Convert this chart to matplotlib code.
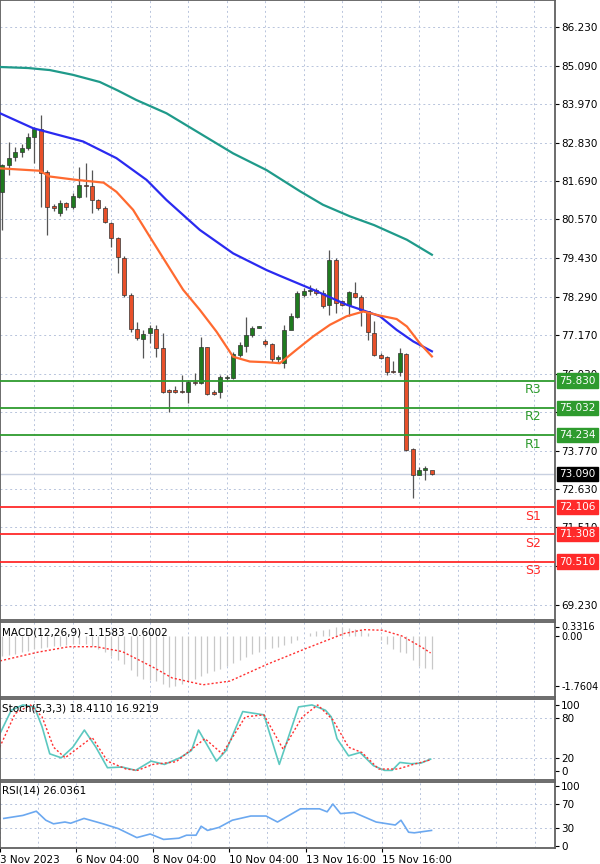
import matplotlib
matplotlib.use("Agg")
import matplotlib.pyplot as plt
import numpy as np

# 4h candles, index 0..67
opens = [81.38, 82.17, 82.41, 82.56, 82.66, 83.00, 83.22, 81.97, 80.96, 80.75, 81.06, 80.92,
         81.24, 81.58, 81.55, 81.14, 80.90, 80.45, 80.01, 79.43, 78.35, 77.34, 77.04, 77.22,
         77.36, 76.78, 75.55, 75.55, 75.53, 75.48, 75.80, 75.75, 76.81, 75.50, 75.50, 75.90,
         75.90, 76.58, 76.85, 77.17, 77.39, 77.00, 76.90, 76.46, 76.34, 77.32, 77.71, 78.35,
         78.45, 78.48, 78.40, 78.06, 79.38, 78.16, 78.06, 78.40, 78.30, 77.89, 77.23, 76.59,
         76.52, 76.10, 76.07, 76.62, 73.82, 73.06, 73.21, 73.20]
closes = [82.17, 82.36, 82.56, 82.66, 83.00, 83.22, 81.92, 80.94, 80.89, 81.06, 80.92, 81.26,
          81.58, 81.55, 81.14, 80.90, 80.50, 80.01, 79.47, 78.35, 77.34, 77.07, 77.20, 77.37,
          76.78, 75.50, 75.50, 75.50, 75.48, 75.80, 75.75, 76.81, 75.44, 75.44, 75.93, 75.93,
          76.61, 76.88, 77.17, 77.37, 77.40, 76.90, 76.46, 76.53, 77.32, 77.73, 78.40, 78.45,
          78.50, 78.40, 78.03, 79.38, 78.11, 78.06, 78.42, 78.30, 77.91, 77.25, 76.59, 76.49,
          76.07, 76.08, 76.64, 73.80, 73.06, 73.21, 73.23, 73.09]
highs = [82.20, 82.85, 82.70, 82.80, 83.10, 83.30, 83.64, 82.02, 81.02, 81.14, 81.09, 81.34,
         82.12, 82.24, 82.02, 81.16, 80.95, 80.50, 80.06, 79.48, 78.40, 77.56, 77.32, 77.47,
         77.47, 77.22, 75.57, 75.67, 75.99, 75.85, 76.04, 77.12, 76.83, 75.55, 76.00, 76.00,
         76.68, 76.95, 77.71, 77.42, 77.42, 77.04, 76.93, 76.58, 77.47, 77.81, 78.45, 78.55,
         78.65, 78.55, 78.50, 79.68, 79.43, 78.21, 78.45, 78.72, 78.35, 77.82, 77.57, 76.64,
         76.56, 76.40, 76.79, 76.64, 73.85, 73.30, 73.32, 73.13]
lows = [80.26, 81.88, 82.30, 82.41, 82.61, 82.22, 80.94, 80.11, 80.83, 80.67, 80.84, 80.87,
        81.19, 81.24, 80.75, 80.85, 80.45, 79.77, 78.98, 78.30, 77.27, 77.02, 76.49, 76.93,
        76.53, 75.45, 74.92, 75.45, 75.45, 75.16, 75.70, 75.73, 75.41, 75.41, 75.31, 75.85,
        75.87, 76.53, 76.68, 77.12, 77.38, 76.86, 76.39, 76.34, 76.19, 77.37, 77.66, 78.30,
        78.35, 78.35, 77.97, 77.77, 77.81, 78.01, 77.72, 78.25, 77.44, 77.03, 76.54, 76.46,
        76.00, 76.05, 75.95, 73.75, 72.37, 73.06, 72.91, 73.06]

# moving averages (bar position, price)
ma_fast_x = [-0.36, 5.8, 7.4, 11.6, 15.8, 17.8, 20.4, 23.0, 25.6, 28.2, 30.8, 33.4, 36.0,
             38.6, 41.2, 43.3, 45.9, 48.5, 51.1, 53.7, 56.3, 58.9, 61.5, 63.1, 65.1, 67.0]
ma_fast_y = [82.07, 82.00, 81.83, 81.73, 81.65, 81.38, 80.85, 80.06, 79.28, 78.50, 77.91,
             77.27, 76.53, 76.39, 76.37, 76.34, 76.74, 77.13, 77.47, 77.72, 77.86, 77.74,
             77.64, 77.42, 76.93, 76.54]
ma_mid_x = [-0.36, 4.8, 12.6, 17.8, 22.5, 25.6, 30.8, 36.0, 41.2, 43.3, 48.5, 53.7, 56.8,
            58.9, 61.5, 64.1, 67.0]
ma_mid_y = [83.69, 83.25, 82.86, 82.37, 81.73, 81.14, 80.26, 79.57, 79.08, 78.91, 78.50,
            78.06, 77.86, 77.72, 77.32, 76.98, 76.69]
ma_slow_x = [-0.36, 4.0, 7.4, 11.0, 15.2, 18.0, 20.9, 25.6, 30.8, 36.0, 41.2, 46.4, 50.0,
             54.2, 58.0, 63.1, 67.0]
ma_slow_y = [85.05, 85.02, 84.96, 84.82, 84.61, 84.36, 84.08, 83.69, 83.10, 82.51, 82.02,
             81.40, 81.00, 80.66, 80.40, 79.97, 79.53]

price_ticks = [86.230, 85.090, 83.970, 82.830, 81.690, 80.570, 79.430, 78.290, 77.170,
               76.030, 74.910, 73.770, 72.630, 71.510, 70.370, 69.230]
res_levels = [75.830, 75.032, 74.234]
res_names = ["R3", "R2", "R1"]
sup_levels = [72.106, 71.308, 70.510]
sup_names = ["S1", "S2", "S3"]
last_price = 73.090

macd_hist = [-0.70, -0.66, -0.62, -0.57, -0.52, -0.47, -0.42, -0.38, -0.36, -0.35, -0.33,
             -0.30, -0.28, -0.30, -0.35, -0.45, -0.55, -0.70, -0.85, -1.00, -1.20, -1.40,
             -1.50, -1.55, -1.60, -1.70, -1.80, -1.78, -1.70, -1.60, -1.50, -1.40, -1.30,
             -1.25, -1.15, -1.05, -0.95, -0.85, -0.75, -0.65, -0.55, -0.47, -0.42, -0.38,
             -0.33, -0.25, -0.15, -0.02, 0.10, 0.18, 0.22, 0.25, 0.33, 0.30, 0.28, 0.25,
             0.20, 0.12, 0.00, -0.15, -0.30, -0.45, -0.55, -0.60, -0.85, -1.05, -1.12, -1.16]
macd_sig_x = [-0.36, 5.6, 10.4, 14.6, 18.7, 23.5, 26.5, 31.3, 35.5, 41.4, 47.4, 53.4, 56.4,
              59.3, 62.3, 65.3, 66.8]
macd_sig_y = [-0.88, -0.57, -0.38, -0.38, -0.55, -1.10, -1.48, -1.72, -1.59, -0.99, -0.44,
              0.09, 0.22, 0.20, 0.00, -0.38, -0.60]

stoch_k_x = [-0.4, 1.4, 3.2, 5.0, 6.2, 7.4, 9.2, 11.0, 12.8, 14.6, 16.4, 18.7, 20.8, 23.2,
             25.3, 27.7, 29.5, 30.6, 33.4, 34.9, 37.5, 40.8, 43.2, 46.2, 48.3, 50.4, 51.3,
             52.2, 54.0, 55.8, 57.9, 59.6, 60.8, 62.0, 63.8, 65.3, 66.8]
stoch_k_y = [56, 92, 100, 97, 67, 26, 20, 36, 62, 36, 5, 6, 1, 15, 10, 20, 31, 62, 15, 31,
             90, 85, 10, 97, 100, 92, 82, 49, 23, 28, 8, 1, 1, 13, 11, 12, 18]
stoch_d_x = [-0.4, 2.0, 4.4, 6.2, 8.0, 9.8, 14.0, 16.4, 19.3, 21.1, 23.5, 27.1, 31.6, 34.3,
             37.9, 40.8, 43.8, 46.8, 49.2, 51.6, 54.0, 56.1, 58.7, 61.7, 64.1, 66.8]
stoch_d_y = [36, 87, 100, 82, 36, 20, 51, 15, 3, 1, 10, 14, 49, 26, 82, 85, 33, 82, 100, 77,
             36, 28, 3, 3, 10, 17]

rsi_x = [-0.4, 2.6, 4.7, 6.2, 7.4, 9.2, 10.1, 12.2, 15.2, 17.6, 20.5, 22.6, 24.7, 27.1,
         28.3, 29.8, 30.6, 31.6, 33.4, 35.5, 38.4, 40.8, 42.6, 46.2, 49.2, 50.4, 51.3, 52.5,
         54.6, 58.1, 61.1, 62.0, 63.2, 64.1, 66.8]
rsi_y = [46, 51, 58, 43, 37, 40, 38, 46, 37, 29, 14, 20, 11, 13, 18, 18, 33, 26, 31, 43,
         50, 50, 40, 62, 62, 57, 70, 54, 56, 40, 35, 43, 23, 22, 26]

date_pos = [-1, 11, 23, 35, 47, 59]
date_labels = ["3 Nov 2023", "6 Nov 04:00", "8 Nov 04:00", "10 Nov 04:00",
               "13 Nov 16:00", "15 Nov 16:00"]

W, H = 600, 864
XL = (-0.36, 86.2)
GRID = dict(color="#b8c4dc", linestyle=(0, (2, 3)), linewidth=0.7, zorder=0)
FS = 7.5

fig = plt.figure(figsize=(6, 8.64), dpi=100)


def make_ax(top, bottom):
    ax = fig.add_axes([0, 1 - bottom / H, 555 / W, (bottom - top) / H])
    ax.set_xlim(*XL)
    ax.set_xticks([])
    for s in ax.spines.values():
        s.set_color("#606060")
        s.set_linewidth(1.3)
    ax.yaxis.tick_right()
    ax.tick_params(axis="y", labelsize=FS, length=3, pad=1.5)
    for gx in np.arange(-1, 87, 6):
        ax.axvline(gx, **GRID)
    return ax


ax = make_ax(0, 620)
ax.set_ylim(68.79, 87.02)
ax.set_yticks(price_ticks)
ax.set_yticklabels([f"{v:.3f}" for v in price_ticks])
for v in price_ticks:
    ax.axhline(v, **GRID)

idx = np.arange(len(opens))
o = np.array(opens)
c = np.array(closes)
up = c >= o
colors = np.where(up, "#1f7a1f", "#e8502a")
ax.vlines(idx, lows, highs, color="#555555", linewidth=0.9, zorder=2)
ax.bar(idx, np.maximum(np.abs(c - o), 0.04), bottom=np.minimum(o, c), width=0.62,
       color=colors, edgecolor="#333333", linewidth=0.5, zorder=3)

ax.plot(ma_slow_x, ma_slow_y, color="#1f9a8a", linewidth=1.6, zorder=4)
ax.plot(ma_mid_x, ma_mid_y, color="#2a2af0", linewidth=1.6, zorder=4)
ax.plot(ma_fast_x, ma_fast_y, color="#ff6a30", linewidth=1.6, zorder=4)

ytr = ax.get_yaxis_transform()
ax.axhline(last_price, color="#c8d0e0", linewidth=1.0, zorder=1)
ax.text(1.008, last_price, f"{last_price:.3f}", transform=ytr,
        fontsize=FS, color="white", va="center", ha="left", zorder=10,
        bbox=dict(boxstyle="square,pad=0.2", fc="black", ec="black"))
for lv, nm in zip(res_levels, res_names):
    ax.axhline(lv, color="#2e9b2e", linewidth=1.3, zorder=5)
    ax.text(1.008, lv, f"{lv:.3f}", transform=ytr, fontsize=FS,
            color="white", va="center", ha="left", zorder=10,
            bbox=dict(boxstyle="square,pad=0.2", fc="#2e9b2e", ec="#2e9b2e"))
    ax.text(533 / 555, lv - 0.08, nm, transform=ytr, fontsize=9,
            color="#2e9b2e", va="top", ha="center")
for lv, nm in zip(sup_levels, sup_names):
    ax.axhline(lv, color="#ff2a2a", linewidth=1.3, zorder=5)
    ax.text(1.008, lv, f"{lv:.3f}", transform=ytr, fontsize=FS,
            color="white", va="center", ha="left", zorder=10,
            bbox=dict(boxstyle="square,pad=0.2", fc="#ff2a2a", ec="#ff2a2a"))
    ax.text(533 / 555, lv - 0.08, nm, transform=ytr, fontsize=9,
            color="#ff2a2a", va="top", ha="center")

# MACD
axm = make_ax(622, 697)
axm.set_ylim(-2.15, 0.49)
axm.set_yticks([0.3316, 0.0, -1.7604])
axm.set_yticklabels(["0.3316", "0.00", "-1.7604"], fontsize=7)
axm.vlines(idx, 0, macd_hist, color="#c8c8c8", linewidth=0.9, zorder=2)
axm.plot(macd_sig_x, macd_sig_y, color="#ff3030", linestyle=(0, (1.5, 1.5)), linewidth=1.0)
axm.text(0.003, 0.93, "MACD(12,26,9) -1.1583 -0.6002", transform=axm.transAxes,
         fontsize=FS, va="top")

# Stochastic
axs = make_ax(699, 780)
axs.set_ylim(-13.6, 109)
axs.set_yticks([100, 80, 20, 0])
for v in (20, 80):
    axs.axhline(v, **GRID)
axs.plot(stoch_k_x, stoch_k_y, color="#5cc8c0", linewidth=1.2)
axs.plot(stoch_d_x, stoch_d_y, color="#ff3030", linestyle=(0, (1.5, 1.5)), linewidth=1.0)
axs.text(0.003, 0.95, "Stoch(5,3,3) 18.4110 16.9219", transform=axs.transAxes,
         fontsize=FS, va="top")

# RSI
axr = make_ax(782, 848)
axr.set_ylim(-3.3, 106.7)
axr.set_yticks([100, 70, 30, 0])
for v in (30, 70):
    axr.axhline(v, **GRID)
axr.plot(rsi_x, rsi_y, color="#6ba8f0", linewidth=1.2)
axr.text(0.003, 0.95, "RSI(14) 26.0361", transform=axr.transAxes, fontsize=FS, va="top")
axr.set_xticks(date_pos)
axr.set_xticklabels(date_labels, ha="left")
axr.tick_params(axis="x", labelsize=FS, length=3, pad=2)

fig.savefig("out.png", dpi=100)
